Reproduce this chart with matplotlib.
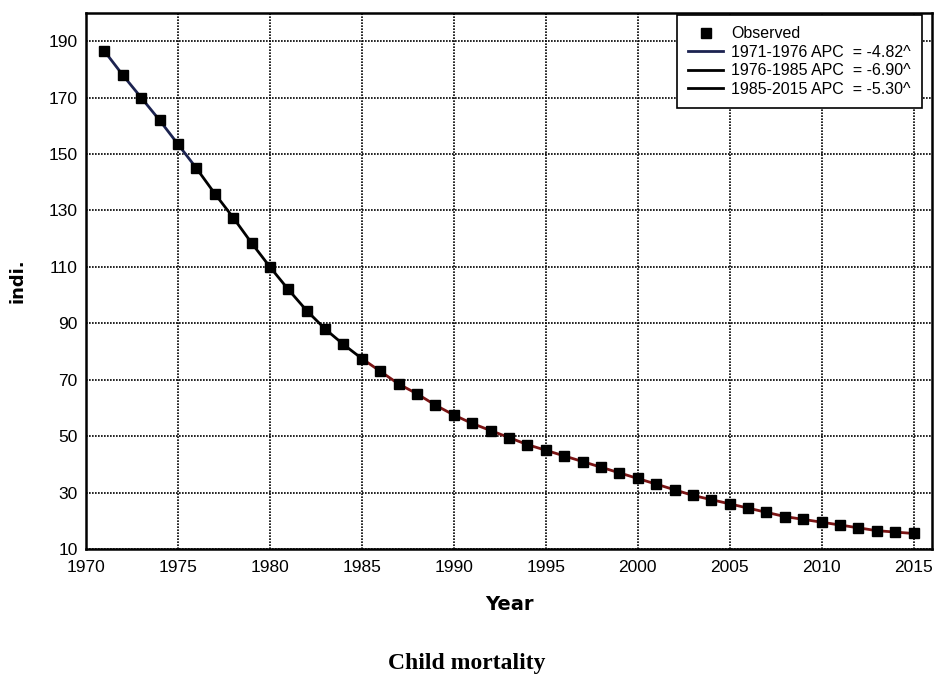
import matplotlib.pyplot as plt

# observed child mortality per year
years = list(range(1971, 2016))
observed = [186.5, 178, 170, 162, 153.5, 145, 136, 127.5, 118.5, 110,
            102, 94.5, 88, 82.5, 77.5, 73, 68.5, 65, 61, 57.5,
            54.5, 52, 49.5, 47, 45, 43, 41, 39, 37, 35,
            33, 31, 29, 27.5, 26, 24.5, 23, 21.5, 20.5, 19.5,
            18.5, 17.5, 16.5, 16, 15.5]

# joinpoint segments: (start, end, label, colour)
segments = [
    (1971, 1976, '1971-1976 APC  = -4.82^', '#1c2350'),
    (1976, 1985, '1976-1985 APC  = -6.90^', 'black'),
    (1985, 2015, '1985-2015 APC  = -5.30^', '#7a1414'),
]
legend_colours = ['#1c2350', 'black', 'black']

xticks = list(range(1970, 2016, 5))
yticks = list(range(10, 191, 20))

plt.rcParams['font.family'] = ['Liberation Sans', 'DejaVu Sans']

fig = plt.figure(figsize=(9.34, 6.75), dpi=100)
ax = fig.add_axes([86 / 934, 1 - 549 / 675, (932 - 86) / 934, (549 - 13) / 675])

handles = []
for (s, e, lab, col), lcol in zip(segments, legend_colours):
    xs = [y for y in years if s <= y <= e]
    ys = [observed[years.index(y)] for y in xs]
    ax.plot(xs, ys, color=col, lw=2.0, zorder=2)
    h, = ax.plot([], [], color=lcol, lw=2.0, label=lab)
    handles.append(h)

obs, = ax.plot(years, observed, 's', color='black', ms=7.5, zorder=3, label='Observed')

ax.set_xlim(1970, 2016)
ax.set_ylim(10, 200)
ax.set_xticks(xticks)
ax.set_yticks(yticks)
ax.tick_params(length=0, labelsize=12.5, pad=8)
ax.tick_params(axis='y', pad=6)
ax.grid(True, color='black', linestyle=(0, (1, 0.8)), lw=1.2)
for sp in ax.spines.values():
    sp.set_linewidth(1.8)

ax.set_xlabel('Year', fontsize=14, fontweight='bold', family='DejaVu Sans', labelpad=14)
ax.set_ylabel('indi.', fontsize=13, fontweight='bold', family='DejaVu Sans', labelpad=16)

leg = ax.legend([obs] + handles, [obs.get_label()] + [h.get_label() for h in handles],
                loc='upper right', fontsize=11.5, fancybox=False, framealpha=1,
                edgecolor='black', handlelength=2.2, labelspacing=0.22,
                borderpad=0.7, handletextpad=0.5, borderaxespad=0,
                bbox_to_anchor=((922 - 86) / 846, (549 - 15) / 536))
leg.get_frame().set_linewidth(1.2)

fig.text(0.5, 1 - 663 / 675, 'Child mortality', ha='center', va='center',
         fontsize=17, fontweight='bold', family='Liberation Serif')

fig.savefig('out.png', dpi=100)
